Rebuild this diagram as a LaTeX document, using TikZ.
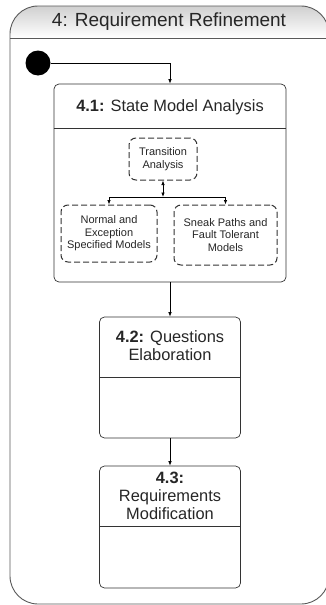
\documentclass[tikz,border=0pt]{standalone}
\usepackage{fontspec}
\setmainfont{Liberation Sans}
\usetikzlibrary{positioning,arrows.meta}
\tikzset{
  frame/.style={
    draw=black!65,
    line width=0.9pt,
    rounded corners=28pt,
  },
  state box/.style={
    draw=black!80,
    line width=0.7pt,
    rounded corners=5pt,
    minimum width={#1pt},
  },
  sub box/.style={
    draw=black!80,
    line width=1pt,
    dash pattern=on 6pt off 3pt,
    rounded corners=7pt,
    align=center,
    text=black!85,
    font=\fontsize{11}{12.5}\selectfont,
  },
  box title/.style={
    align=center,
    text=black!85,
    font=\fontsize{16.4}{18}\selectfont,
  },
  flow/.style={
    -{Latex[length=4.5pt,width=3.5pt]},
    line width=0.7pt,
  },
}

\begin{document}
\begin{tikzpicture}[x=1pt,y=-1pt]
        \useasboundingbox (0,0) rectangle (326,605);

        \begin{scope}
          \clip[rounded corners=28pt] (10,604) -- (10,6) -- (329,6) -- (329,604) -- cycle;
          \shade[top color=black!22, bottom color=white] (0,0) rectangle (330,38);
        \end{scope}
        \draw[frame] (10,604) -- (10,6) -- (329,6) -- (329,604) -- cycle;
        \draw[black!65, line width=0.9pt] (10,38) -- (329,38);
        \node[text=black!85, font=\fontsize{19}{21}\selectfont] (title) at (169,22) {4: Requirement Refinement};

        \node[circle, fill=black, minimum size=25pt, inner sep=0pt] (init) at (38,63) {};

        \node[state box=232, minimum height=198pt] (b41) at (170,183) {};
        \draw[black!80, line width=0.7pt] ([yshift=-45pt]b41.north west) -- ([yshift=-45pt]b41.north east);
        \node[box title] (t41) at (170,107) {\textbf{4.1:} State Model Analysis};

        \node[sub box, minimum width=68pt, minimum height=42pt] (trans) at (163,159) {Transition\\Analysis};
        \node[sub box, minimum width=96pt, minimum height=57pt] (normal) at (109,233.5) {Normal and\\Exception\\Specified Models};
        \node[sub box, minimum width=103pt, minimum height=60pt] (sneak) at (225.5,235) {Sneak Paths and\\Fault Tolerant\\Models};
        \coordinate (fork) at (163,197);

        \node[state box=141, minimum height=121pt] (b42) at (170,377.5) {};
        \draw[black!80, line width=0.7pt] ([yshift=-61pt]b42.north west) -- ([yshift=-61pt]b42.north east);
        \node[box title] (t42) at (170,346) {\textbf{4.2:} Questions\\Elaboration};

        \node[state box=141, minimum height=122pt] (b43) at (170,527) {};
        \draw[black!80, line width=0.7pt] ([yshift=-61pt]b43.north west) -- ([yshift=-61pt]b43.north east);
        \node[box title] (t43) at (170,496) {\textbf{4.3:}\\Requirements\\Modification};

        \draw[flow] (init.east) -| (b41.north);
        \draw[flow, {Latex[length=4.5pt,width=3.5pt]}-{Latex[length=4.5pt,width=3.5pt]}] (trans.south) -- (fork);
        \draw[flow] (fork) -| (normal.north);
        \draw[flow] (fork) -| (sneak.north);
        \draw[flow] (b41.south) -- (b42.north);
        \draw[flow] (b42.south) -- (b43.north);
      \end{tikzpicture}
\end{document}
